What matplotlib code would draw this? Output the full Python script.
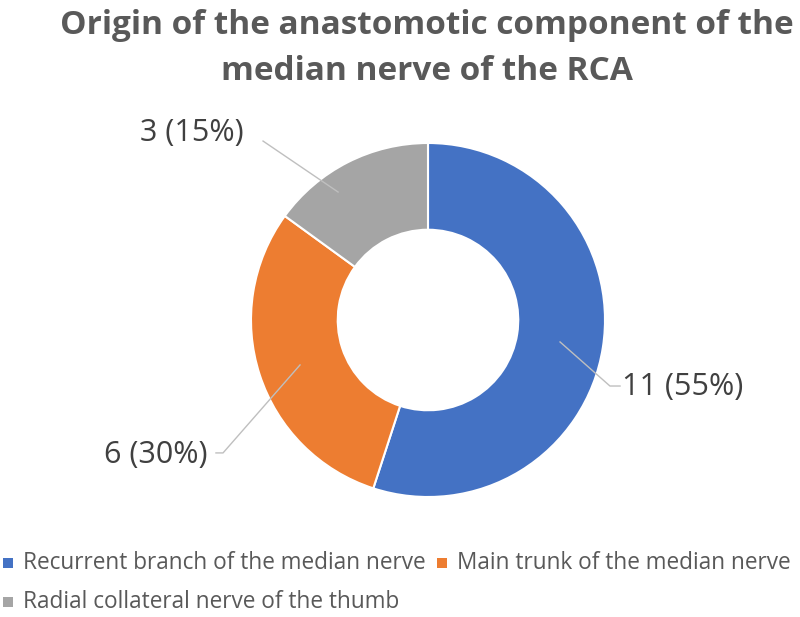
import matplotlib.pyplot as plt
from matplotlib.patches import Rectangle

# data
categories = ["Recurrent branch of the median nerve",
              "Main trunk of the median nerve",
              "Radial collateral nerve of the thumb"]
counts = [11, 6, 3]
colors = ["#4472C4", "#ED7D31", "#A5A5A5"]

W, H = 800, 617
fig = plt.figure(figsize=(W / 100, H / 100), dpi=100)
fig.patch.set_facecolor("white")

# donut axes, centre ~ (428, 320) px, radius ~177 px
ax = fig.add_axes([(428 - 177) / W, (H - 497) / H, 354 / W, 354 / H])
wedges, _ = ax.pie(counts, colors=colors, startangle=90, counterclock=False,
                   radius=1, wedgeprops=dict(width=0.49, edgecolor="white", linewidth=1.5))
ax.set_xlim(-1, 1)
ax.set_ylim(-1, 1)
ax.set_aspect("equal")
ax.axis("off")

total = sum(counts)
labels = ["%d (%d%%)" % (c, round(100 * c / total)) for c in counts]

# leader lines (data coords of the donut axes)
lc = dict(color="#BFBFBF", lw=1, clip_on=False)
ax.plot([0.746, 1.028, 1.085], [-0.124, -0.373, -0.373], **lc)
ax.plot([-0.723, -1.158, -1.198], [-0.254, -0.751, -0.751], **lc)
ax.plot([-0.508, -0.932], [0.723, 1.011], **lc)

tk = dict(fontsize=22, color="#404040", family="Open Sans", va="center", clip_on=False)
ax.text(1.096, -0.379, labels[0], ha="left", **tk)
ax.text(-1.243, -0.763, labels[1], ha="right", **tk)
ax.text(-1.333, 1.056, labels[2], ha="center", **tk)

# title
tt = dict(ha="center", va="center", fontsize=24, fontweight="bold", color="#595959", family="Open Sans")
fig.text(427 / W, 1 - 25 / H, "Origin of the anastomotic component of the", **tt)
fig.text(427 / W, 1 - 72 / H, "median nerve of the RCA", **tt)

# legend (manual, Office style)
leg_pos = [(3, 563), (437, 563), (3, 602)]
for (px, py), c, name in zip(leg_pos, colors, categories):
    fig.add_artist(Rectangle((px / W, 1 - (py + 5) / H), 10 / W, 10 / H,
                             transform=fig.transFigure, facecolor=c, edgecolor="none"))
    fig.text((px + 20) / W, 1 - py / H, name, ha="left", va="center",
             fontsize=16.3, color="#595959", family="Open Sans")

plt.savefig("out.png", dpi=100)
